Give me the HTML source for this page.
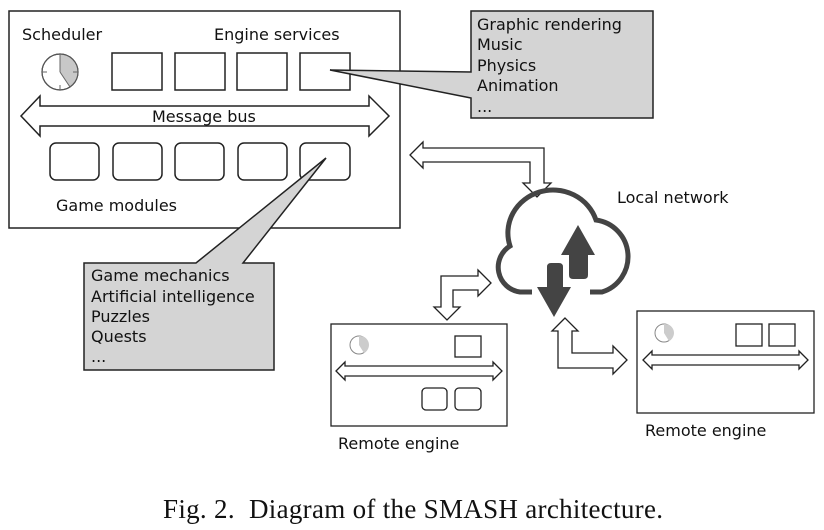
<!DOCTYPE html>
<html><head><meta charset="utf-8"><style>
html,body{margin:0;padding:0;background:#fff;}
svg{display:block;}
text{font-family:"DejaVu Sans","Liberation Sans",sans-serif;font-size:16px;fill:#111;}
.cap{font-family:"Liberation Serif",serif;font-size:27px;white-space:pre;letter-spacing:0.3px;}
</style></head><body>
<svg width="824" height="530" viewBox="0 0 824 530" xmlns="http://www.w3.org/2000/svg">
<g fill="none" stroke="#222" stroke-width="1.5">
<rect x="9" y="11" width="391" height="217" fill="#fff"/>
<rect x="112" y="53" width="50" height="37"/>
<rect x="175" y="53" width="50" height="37"/>
<rect x="237" y="53" width="50" height="37"/>
<rect x="300" y="53" width="50" height="37"/>
<rect x="50" y="143" width="49" height="37" rx="6"/>
<rect x="113" y="143" width="49" height="37" rx="6"/>
<rect x="175" y="143" width="49" height="37" rx="6"/>
<rect x="238" y="143" width="49" height="37" rx="6"/>
<rect x="300" y="143" width="50" height="37" rx="6"/>
<path d="M21,116 L40,96 V106 H369 V96 L389,116 L369,136 V126 H40 V136 Z" fill="#fff"/>
</g>
<circle cx="60" cy="72" r="18" fill="#fff" stroke="#555" stroke-width="1.2"/>
<path d="M60,72 V54 A18,18 0 0 1 70,87 Z" fill="#c8c8c8"/>
<circle cx="60" cy="72" r="18" fill="none" stroke="#555" stroke-width="1.2"/>
<g stroke="#666" stroke-width="1"><line x1="60" y1="54" x2="60" y2="59"/><line x1="60" y1="85" x2="60" y2="90"/><line x1="42" y1="72" x2="47" y2="72"/><line x1="73" y1="72" x2="78" y2="72"/><line x1="60" y1="72" x2="60" y2="54"/><line x1="60" y1="72" x2="70" y2="87"/></g>
<text x="22" y="40">Scheduler</text>
<text x="214" y="40">Engine services</text>
<text x="152" y="122">Message bus</text>
<text x="56" y="211">Game modules</text>
<path d="M471,11 H653 V118 H471 V98 L330,70 L471,72 Z" fill="#d4d4d4" stroke="#222" stroke-width="1.5"/>
<text x="477" y="30">Graphic rendering</text>
<text x="477" y="50">Music</text>
<text x="477" y="71">Physics</text>
<text x="477" y="91">Animation</text>
<text x="477" y="112">...</text>
<path d="M84,263 H196 L326,158 L243,263 H274 V370 H84 Z" fill="#d4d4d4" stroke="#222" stroke-width="1.5"/>
<text x="91" y="281">Game mechanics</text>
<text x="91" y="302">Artificial intelligence</text>
<text x="91" y="322">Puzzles</text>
<text x="91" y="342">Quests</text>
<text x="91" y="362">...</text>
<g fill="#fff" stroke="#222" stroke-width="1.3">
<path d="M410,155 L423,142 V148 H544 V183 H551 L537,197 L523,183 H530 V162 H423 V168 Z"/>
<path d="M491,283 L478,270 V276 H441 V307 H434 L447,320 L460,307 H453 V290 H478 V296 Z"/>
<path d="M565,318 L552,331 H558 V368 H613 V374 L627,360 L613,346 V353 H572 V331 H578 Z"/>
</g>
<path d="M532,292 H520 A25,25 0 0 1 510,246 A43,41 0 0 1 596,220 A37,37 0 0 1 602,292 H590" fill="none" stroke="#444" stroke-width="5"/>
<path d="M578,225 L595,255 H588 V275 Q588,279 584,279 H573 Q569,279 569,275 V255 H561 Z" fill="#444"/>
<path d="M554,317 L537,287 H547 V267 Q547,263 551,263 H559 Q563,263 563,267 V287 H571 Z" fill="#444"/>
<text x="617" y="203">Local network</text>
<g fill="none" stroke="#222" stroke-width="1.3">
<rect x="331" y="324" width="176" height="102"/>
<rect x="455" y="336" width="26" height="21"/>
<rect x="422" y="388" width="25" height="22" rx="4"/>
<rect x="455" y="388" width="26" height="22" rx="4"/>
<path d="M336,371 L345,362 V366 H493 V362 L502,371 L493,380 V376 H345 V380 Z"/>
<rect x="637" y="311" width="177" height="102"/>
<rect x="736" y="324" width="26" height="22"/>
<rect x="769" y="324" width="26" height="22"/>
<path d="M643,360 L652,351 V355 H799 V351 L808,360 L799,369 V365 H652 V369 Z"/>
</g>
<circle cx="359" cy="345" r="9" fill="#fff" stroke="#888"/>
<path d="M359,345 V336 A9,9 0 0 1 364,353 Z" fill="#ccc"/>
<circle cx="664" cy="333" r="9" fill="#fff" stroke="#888"/>
<path d="M664,333 V324 A9,9 0 0 1 669,341 Z" fill="#ccc"/>
<text x="338" y="449">Remote engine</text>
<text x="645" y="436">Remote engine</text>
<text class="cap" x="163" y="518" xml:space="preserve">Fig. 2.  Diagram of the SMASH architecture.</text>
</svg>
</body></html>
